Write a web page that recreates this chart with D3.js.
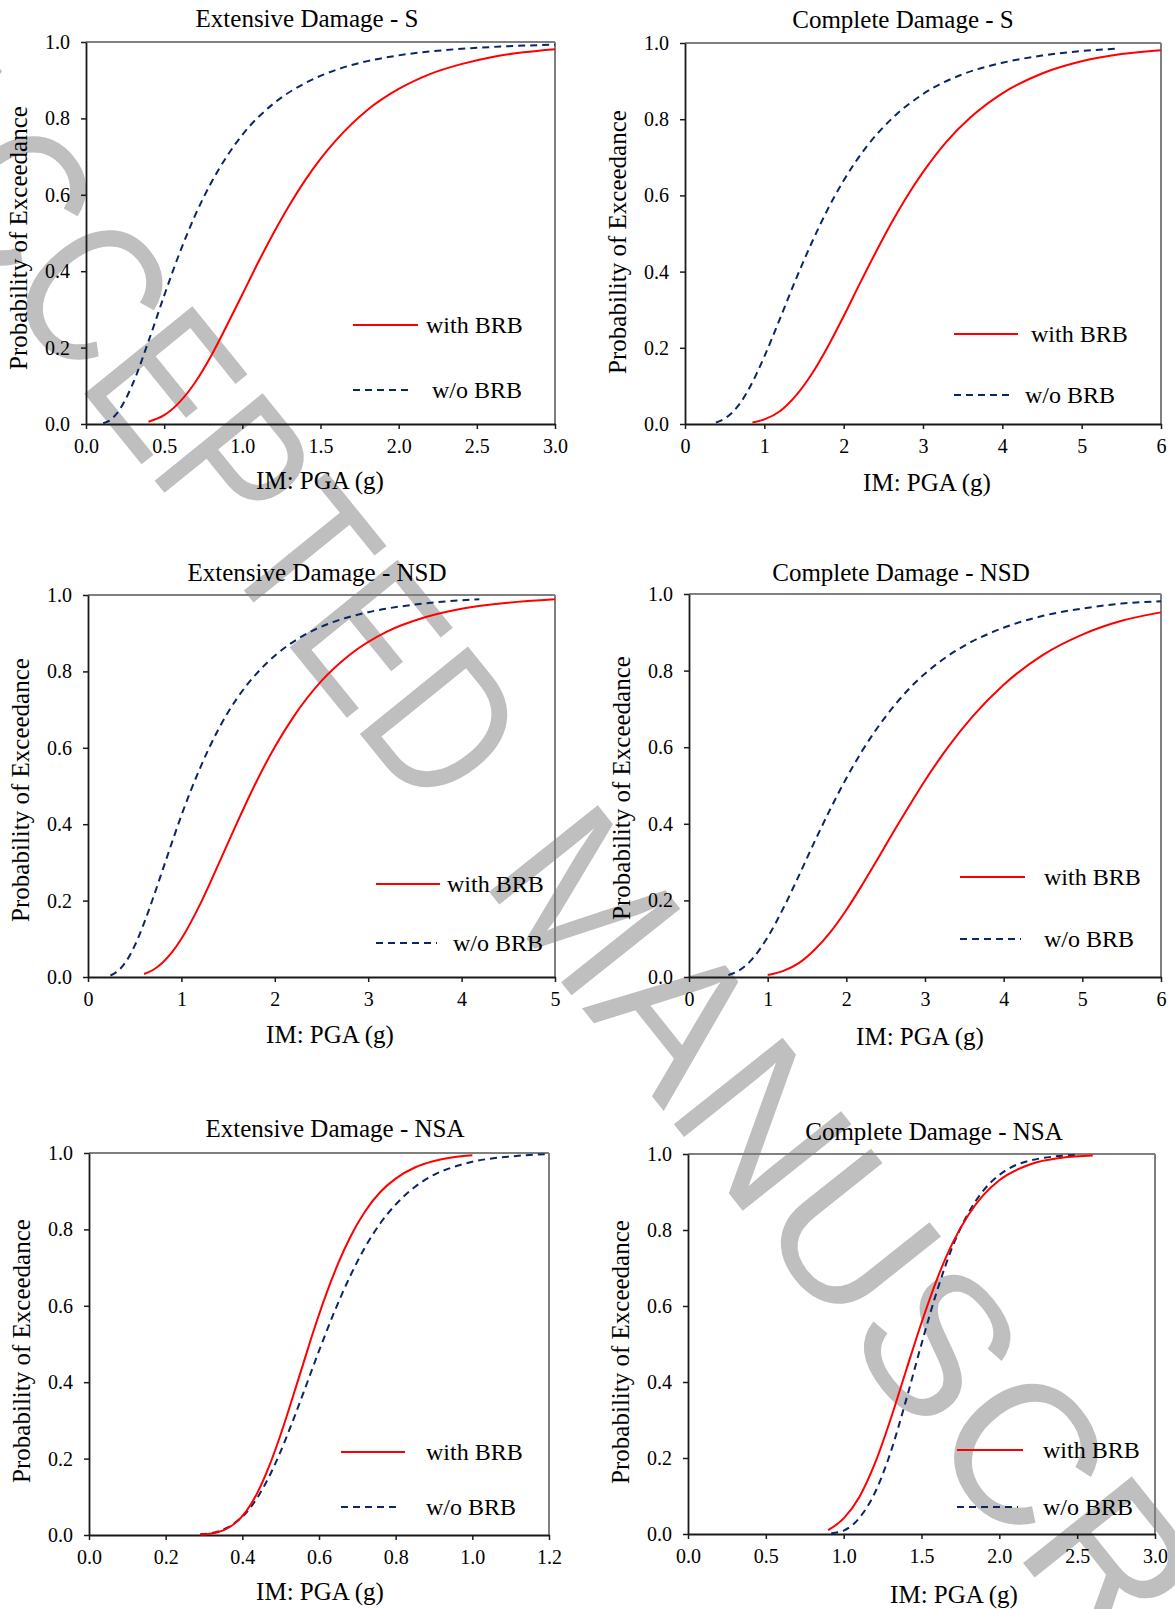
<!DOCTYPE html>
<html>
<head>
  <meta charset="utf-8">
  <title>Fragility curves with / without BRB</title>
  <script src="https://d3js.org/d3.v7.min.js"></script>
  <style>
    body { margin: 0; background: #fff; }
    text { font-family: "Liberation Serif", "Times New Roman", serif; }
  </style>
</head>
<body>
  <div id="fig"></div>

  <script type="text/javascript">

    // ---- values: [PGA (g), probability] ----
    var extS_with = [[0.40,0.006],[0.50,0.023],[0.60,0.058],[0.70,0.110],[0.80,0.178],[0.90,0.257],[1.00,0.339],
      [1.10,0.422],[1.20,0.500],[1.30,0.572],[1.40,0.637],[1.50,0.694],[1.60,0.743],[1.80,0.822],[2.00,0.877],
      [2.20,0.916],[2.40,0.942],[2.60,0.961],[2.80,0.973],[3.00,0.981]];
    var extS_wo = [[0.11,0.002],[0.15,0.009],[0.20,0.029],[0.30,0.106],[0.40,0.217],[0.50,0.336],[0.60,0.449],
      [0.70,0.548],[0.80,0.631],[0.90,0.700],[1.00,0.757],[1.20,0.839],[1.40,0.892],[1.60,0.927],[1.80,0.950],
      [2.00,0.965],[2.30,0.979],[2.60,0.987],[3.00,0.993]];

    var compS_with = [[0.85,0.004],[1.0,0.012],[1.2,0.034],[1.4,0.075],[1.6,0.132],[1.8,0.203],[2.0,0.283],
      [2.2,0.367],[2.4,0.449],[2.6,0.527],[2.8,0.598],[3.0,0.661],[3.3,0.742],[3.6,0.805],[4.0,0.868],
      [4.5,0.920],[5.0,0.952],[5.5,0.971],[6.0,0.981]];
    var compS_wo = [[0.39,0.004],[0.5,0.014],[0.6,0.031],[0.7,0.056],[0.8,0.090],[0.9,0.131],[1.0,0.177],
      [1.2,0.278],[1.4,0.381],[1.6,0.477],[1.8,0.564],[2.0,0.639],[2.3,0.731],[2.6,0.800],[3.0,0.866],
      [3.5,0.918],[4.0,0.948],[4.5,0.967],[5.0,0.979],[5.43,0.985]];

    var extNSD_with = [[0.6,0.008],[0.7,0.019],[0.8,0.038],[0.9,0.065],[1.0,0.100],[1.2,0.190],[1.4,0.297],
      [1.6,0.406],[1.8,0.510],[2.0,0.602],[2.2,0.681],[2.5,0.775],[2.8,0.843],[3.2,0.904],[3.6,0.941],
      [4.0,0.964],[4.5,0.980],[5.0,0.989]];
    var extNSD_wo = [[0.24,0.004],[0.3,0.012],[0.4,0.038],[0.5,0.082],[0.6,0.141],[0.7,0.209],[0.8,0.281],
      [0.9,0.353],[1.0,0.423],[1.2,0.547],[1.4,0.650],[1.6,0.731],[1.8,0.793],[2.0,0.841],[2.3,0.893],
      [2.6,0.927],[3.0,0.955],[3.5,0.975],[4.19,0.989]];

    var compNSD_with = [[1.0,0.005],[1.2,0.016],[1.4,0.037],[1.6,0.072],[1.8,0.118],[2.0,0.175],[2.2,0.240],
      [2.4,0.309],[2.6,0.379],[2.8,0.447],[3.0,0.513],[3.3,0.602],[3.6,0.679],[4.0,0.763],[4.5,0.841],
      [5.0,0.894],[5.5,0.930],[6.0,0.952]];
    var compNSD_wo = [[0.5,0.005],[0.6,0.013],[0.8,0.046],[1.0,0.104],[1.2,0.180],[1.4,0.266],[1.6,0.355],
      [1.8,0.440],[2.0,0.519],[2.2,0.590],[2.5,0.680],[2.8,0.753],[3.2,0.825],[3.6,0.876],[4.0,0.912],
      [4.5,0.943],[5.0,0.962],[5.5,0.975],[6.0,0.981]];

    var extNSA_with = [[0.29,0.001],[0.32,0.004],[0.35,0.012],[0.38,0.030],[0.41,0.062],[0.44,0.112],[0.47,0.180],
      [0.50,0.263],[0.53,0.356],[0.56,0.452],[0.59,0.547],[0.62,0.634],[0.65,0.711],[0.68,0.777],[0.72,0.847],
      [0.76,0.898],[0.80,0.933],[0.85,0.962],[0.90,0.979],[0.95,0.989],[1.00,0.994]];
    var extNSA_wo = [[0.29,0.002],[0.32,0.005],[0.35,0.014],[0.38,0.031],[0.41,0.058],[0.44,0.099],[0.47,0.153],
      [0.50,0.219],[0.53,0.294],[0.56,0.374],[0.60,0.482],[0.64,0.584],[0.68,0.675],[0.72,0.753],[0.76,0.816],
      [0.80,0.865],[0.85,0.911],[0.90,0.943],[0.95,0.963],[1.00,0.977],[1.10,0.991],[1.20,0.997]];

    var compNSA_with = [[0.90,0.010],[1.0,0.041],[1.1,0.097],[1.2,0.185],[1.3,0.300],[1.4,0.429],[1.5,0.556],
      [1.6,0.671],[1.7,0.766],[1.8,0.839],[1.9,0.893],[2.0,0.931],[2.2,0.973],[2.4,0.990],[2.6,0.996]];
    var compNSA_wo = [[0.92,0.002],[1.0,0.009],[1.1,0.042],[1.2,0.108],[1.3,0.213],[1.4,0.351],[1.5,0.500],
      [1.6,0.640],[1.7,0.757],[1.8,0.844],[1.9,0.905],[2.0,0.945],[2.2,0.983],[2.5,0.998]];

    // tick values / labels
    var xTicks3 = [0, 0.5, 1, 1.5, 2, 2.5, 3];
    var xTicks5 = [0, 1, 2, 3, 4, 5];
    var xTicks6 = [0, 1, 2, 3, 4, 5, 6];
    var xTicks12 = [0, 0.2, 0.4, 0.6, 0.8, 1.0, 1.2];
    var yTicks = [0, 0.2, 0.4, 0.6, 0.8, 1.0];

    var titles = ['Extensive Damage - S', 'Complete Damage - S', 'Extensive Damage - NSD',
                  'Complete Damage - NSD', 'Extensive Damage - NSA', 'Complete Damage - NSA'];
    var seriesNames = ['with BRB', 'w/o BRB'];
    var xLabel = 'IM: PGA (g)';
    var yLabel = 'Probability of Exceedance';

    var panels = [
      {xMax: 3,   ticks: xTicks3,  fmt: '.1f', withBRB: extS_with,    woBRB: extS_wo},
      {xMax: 6,   ticks: xTicks6,  fmt: 'd',   withBRB: compS_with,   woBRB: compS_wo},
      {xMax: 5,   ticks: xTicks5,  fmt: 'd',   withBRB: extNSD_with,  woBRB: extNSD_wo},
      {xMax: 6,   ticks: xTicks6,  fmt: 'd',   withBRB: compNSD_with, woBRB: compNSD_wo},
      {xMax: 1.2, ticks: xTicks12, fmt: '.1f', withBRB: extNSA_with,  woBRB: extNSA_wo},
      {xMax: 3,   ticks: xTicks3,  fmt: '.1f', withBRB: compNSA_with, woBRB: compNSA_wo}
    ];

    // ---- layout (pixel boxes of each panel, label and legend placement) ----
    var layout = [
      {l: 86,  r: 555,  t: 42,   b: 424,  tx: 307, ty: 27,   xl: 320, xly: 489,  yly: 238,  leg: [353, 418, 413, 325, 390, 426, 432]},
      {l: 685, r: 1161, t: 43,   b: 424,  tx: 903, ty: 28,   xl: 927, xly: 491,  yly: 242,  leg: [954, 1018, 1014, 334, 395, 1031, 1025]},
      {l: 88,  r: 555,  t: 595,  b: 977,  tx: 317, ty: 581,  xl: 330, xly: 1043, yly: 790,  leg: [376, 440, 437, 884, 943, 447, 453]},
      {l: 689, r: 1161, t: 594,  b: 977,  tx: 901, ty: 581,  xl: 920, xly: 1045, yly: 788,  leg: [960, 1025, 1021, 877, 939, 1044, 1044]},
      {l: 89,  r: 549,  t: 1153, b: 1535, tx: 335, ty: 1137, xl: 320, xly: 1600, yly: 1351, leg: [341, 405, 401, 1452, 1507, 426, 426]},
      {l: 688, r: 1155, t: 1154, b: 1534, tx: 934, ty: 1140, xl: 954, xly: 1603, yly: 1352, leg: [957, 1023, 1018, 1450, 1507, 1043, 1043]}
    ];

    var red = '#ff0000';
    var navy = '#0b2565';

    var svg = d3.select('#fig')
                .append('svg')
                  .attr('width', 1175)
                  .attr('height', 1609);

    svg.append('rect').attr('width', 1175).attr('height', 1609).attr('fill', '#fff');

    // grey watermark lying under everything (two words, set a little differently)
    var marks = [
      {word: 'ACCEPTED',   tf: 'translate(-147,108) rotate(51) scale(0.83,1)'},
      {word: 'MANUSCRIPT', tf: 'translate(479,879) rotate(51.5) scale(0.98,1)'}
    ];
    svg.append('g').selectAll('text')
       .data(marks)
       .enter().append('text')
         .attr('transform', function(d) { return d.tf; })
         .style('font-family', '"Liberation Sans", Arial, sans-serif')
         .style('font-size', '202px')
         .attr('fill', '#bfbfbf')
         .text(function(d) { return d.word; });

    panels.forEach(function(p, i) {
      var L = layout[i];
      var x = d3.scaleLinear().domain([0, p.xMax]).range([L.l, L.r]);
      var y = d3.scaleLinear().domain([0, 1]).range([L.b, L.t]);
      var g = svg.append('g');

      // top and right frame
      g.append('line').attr('x1', L.l).attr('x2', L.r).attr('y1', L.t).attr('y2', L.t)
        .attr('stroke', '#7f7f7f').attr('stroke-width', 2);
      g.append('line').attr('x1', L.r).attr('x2', L.r).attr('y1', L.t).attr('y2', L.b)
        .attr('stroke', '#7f7f7f').attr('stroke-width', 2);

      var xAxis = g.append('g')
                    .attr('transform', 'translate(0,' + L.b + ')')
                    .call(d3.axisBottom(x).tickValues(p.ticks).tickFormat(d3.format(p.fmt))
                            .tickSize(5).tickSizeOuter(0).tickPadding(10));
      var yAxis = g.append('g')
                    .attr('transform', 'translate(' + L.l + ',0)')
                    .call(d3.axisLeft(y).tickValues(yTicks).tickFormat(d3.format('.1f'))
                            .tickSize(5).tickSizeOuter(0).tickPadding(11));

      [xAxis, yAxis].forEach(function(ax) {
        ax.attr('font-family', null).attr('font-size', null);
        ax.select('.domain').attr('stroke', '#1a1a1a').attr('stroke-width', 1.8);
        ax.selectAll('.tick line').attr('stroke', '#1a1a1a').attr('stroke-width', 1.5);
        ax.selectAll('.tick text').style('font-size', '20px').attr('fill', '#000');
      });

      var line = d3.line()
                   .x(function(d) { return x(d[0]); })
                   .y(function(d) { return y(d[1]); })
                   .curve(d3.curveMonotoneX);

      g.append('path').datum(p.woBRB)
        .attr('d', line).attr('fill', 'none')
        .attr('stroke', navy).attr('stroke-width', 2).attr('stroke-dasharray', '7,5');
      g.append('path').datum(p.withBRB)
        .attr('d', line).attr('fill', 'none')
        .attr('stroke', red).attr('stroke-width', 2);

      // titles and axis labels
      g.append('text').attr('x', L.tx).attr('y', L.ty)
        .attr('text-anchor', 'middle').style('font-size', '25px').text(titles[i]);
      g.append('text').attr('x', L.xl).attr('y', L.xly)
        .attr('text-anchor', 'middle').style('font-size', '25px').text(xLabel);
      g.append('text')
        .attr('transform', 'translate(' + (L.l - 59) + ',' + L.yly + ') rotate(-90)')
        .attr('text-anchor', 'middle').style('font-size', '25px').text(yLabel);

      // legend
      var lg = L.leg;
      g.append('line').attr('x1', lg[0]).attr('x2', lg[1]).attr('y1', lg[3]).attr('y2', lg[3])
        .attr('stroke', red).attr('stroke-width', 2);
      g.append('line').attr('x1', lg[0]).attr('x2', lg[2]).attr('y1', lg[4]).attr('y2', lg[4])
        .attr('stroke', navy).attr('stroke-width', 2).attr('stroke-dasharray', '7,5');
      g.append('text').attr('x', lg[5]).attr('y', lg[3] + 8).style('font-size', '24px').text(seriesNames[0]);
      g.append('text').attr('x', lg[6]).attr('y', lg[4] + 8).style('font-size', '24px').text(seriesNames[1]);
    });

  </script>
</body>
</html>
